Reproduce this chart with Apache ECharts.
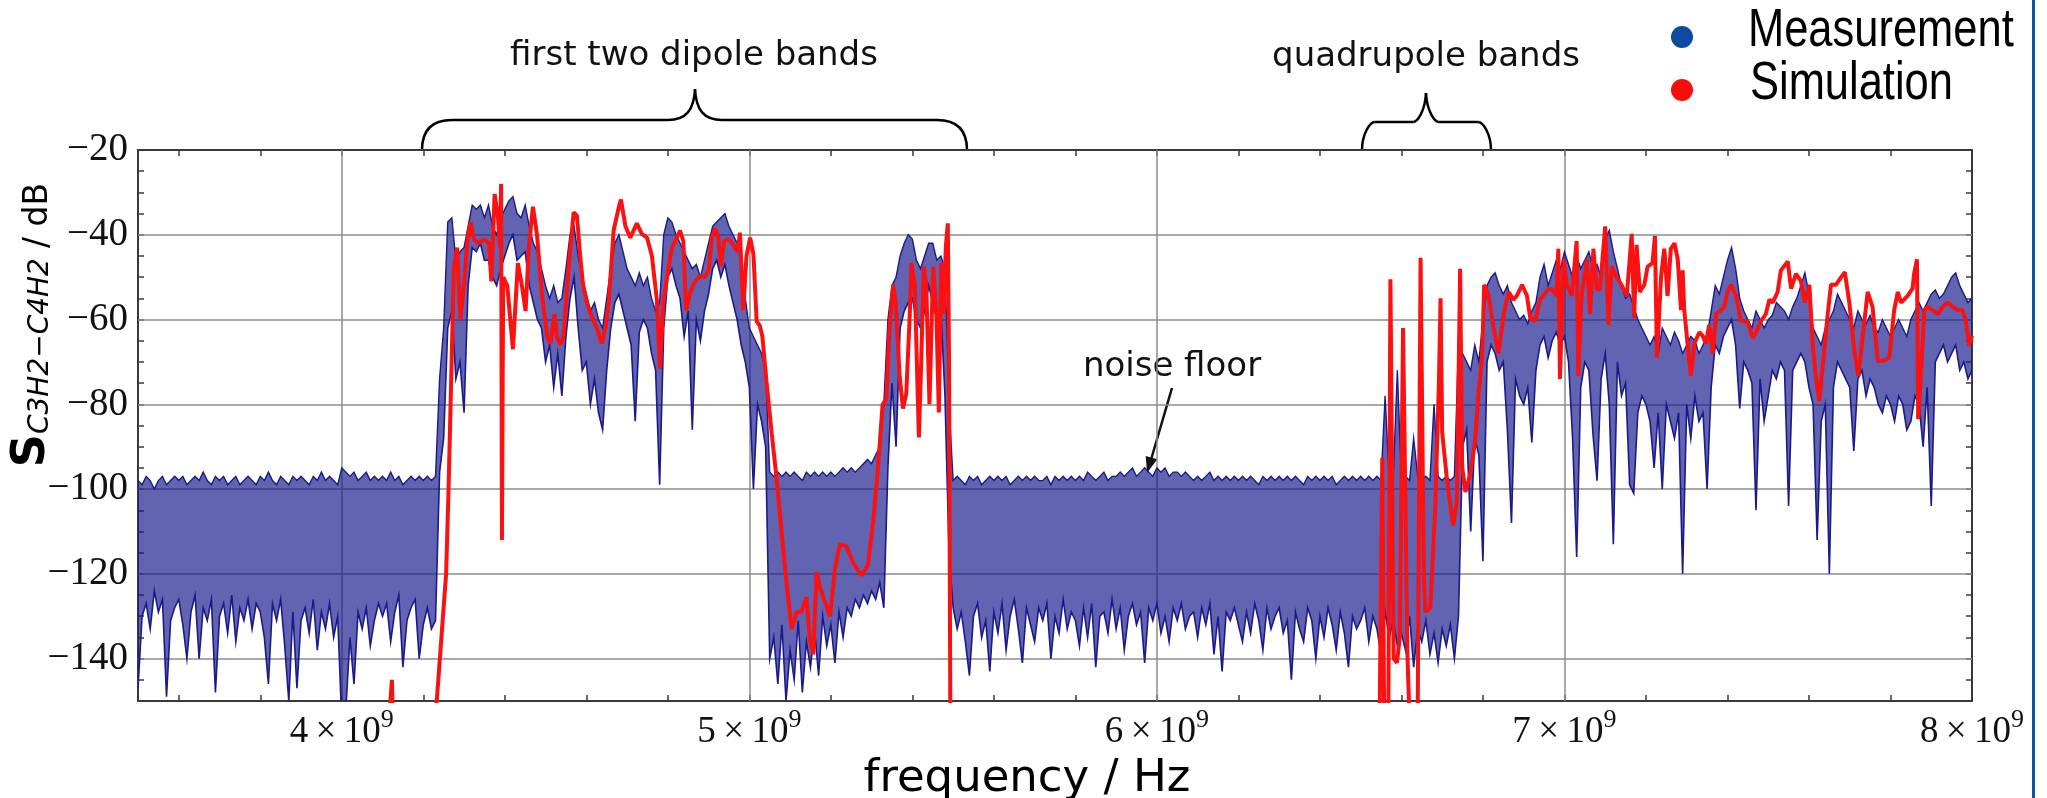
<!DOCTYPE html>
<html lang="en">
<head>
<meta charset="UTF-8" />
<title>S C3H2-C4H2: measurement vs simulation</title>
<script src="https://cdn.jsdelivr.net/npm/echarts@6/dist/echarts.min.js"></script>
<style>
  html, body { margin: 0; padding: 0; background: #fff; }
  #chart { width: 2047px; height: 798px; }
</style>
</head>
<body>
<div id="chart"></div>
<script>
// measurement envelope, sampled every 10 MHz from 3.5 GHz (one line = 100 MHz)
const measStart = 3.5;
const measStep = 0.01;
const measHi = [
  -98,-99,-97,-98,-100,-98,-97,-99,-98,-97,
  -98,-97,-99,-98,-97,-98,-96,-98,-99,-97,
  -98,-97,-99,-98,-97,-99,-98,-97,-98,-99,
  -97,-98,-96,-98,-99,-97,-98,-99,-97,-98,
  -97,-98,-99,-97,-98,-96,-98,-97,-98,-99,
  -95,-96,-97,-96,-98,-97,-96,-98,-97,-98,
  -97,-98,-96,-98,-97,-99,-98,-97,-98,-97,
  -98,-97,-98,-97,-74,-62,-37,-36,-46,-44,
  -43,-38,-33,-34,-33,-36,-33,-38,-40,-36,
  -34,-32,-31,-35,-36,-33,-38,-42,-44,-48,
  -52,-55,-52,-56,-55,-48,-40,-38,-45,-50,
  -54,-58,-56,-60,-62,-55,-48,-42,-40,-44,
  -48,-50,-52,-49,-52,-50,-55,-58,-56,-40,
  -36,-37,-40,-42,-44,-46,-48,-47,-50,-46,
  -42,-38,-37,-36,-35,-38,-40,-42,-46,-55,
  -62,-64,-66,-68,-72,-96,-97,-96,-97,-96,
  -97,-96,-97,-98,-96,-97,-96,-97,-96,-97,
  -96,-97,-96,-95,-96,-95,-96,-95,-94,-93,
  -94,-92,-90,-80,-60,-52,-50,-45,-42,-40,
  -41,-46,-48,-45,-42,-42,-46,-45,-48,-80,
  -98,-97,-98,-99,-97,-98,-97,-99,-98,-97,
  -98,-97,-98,-97,-99,-98,-97,-98,-97,-98,
  -97,-98,-98,-97,-99,-97,-98,-97,-98,-97,
  -98,-97,-98,-96,-97,-98,-97,-96,-98,-97,
  -97,-96,-97,-96,-95,-97,-96,-95,-96,-97,
  -95,-96,-95,-97,-96,-96,-97,-96,-97,-98,
  -97,-98,-97,-96,-98,-97,-98,-97,-98,-97,
  -98,-97,-98,-97,-98,-99,-97,-98,-97,-98,
  -97,-98,-97,-98,-97,-98,-99,-97,-98,-97,
  -98,-97,-98,-97,-99,-98,-97,-98,-97,-98,
  -97,-98,-97,-98,-97,-98,-78,-98,-97,-72,
  -98,-97,-98,-88,-97,-98,-97,-98,-80,-97,
  -98,-97,-98,-97,-66,-68,-70,-72,-66,-70,
  -60,-52,-50,-49,-52,-54,-52,-56,-58,-60,
  -59,-61,-58,-56,-50,-47,-52,-49,-46,-48,
  -44,-47,-50,-45,-48,-46,-44,-48,-47,-50,
  -41,-39,-44,-48,-52,-55,-54,-57,-60,-62,
  -64,-66,-64,-68,-62,-64,-66,-63,-65,-68,
  -66,-64,-65,-68,-66,-64,-58,-52,-54,-50,
  -46,-43,-48,-55,-58,-60,-62,-58,-60,-62,
  -60,-59,-56,-57,-58,-60,-57,-55,-52,-49,
  -54,-62,-64,-66,-62,-60,-58,-54,-56,-58,
  -60,-62,-58,-60,-61,-59,-62,-63,-60,-62,
  -64,-62,-60,-62,-64,-60,-58,-56,-58,-56,
  -54,-53,-55,-54,-52,-50,-49,-52,-54,-56,
  -55
];
const measLo = [
  -147,-130,-127,-133,-124,-129,-126,-149,-131,-128,
  -126,-132,-140,-129,-125,-140,-128,-131,-126,-148,
  -130,-127,-134,-125,-136,-128,-131,-126,-133,-127,
  -129,-135,-146,-127,-131,-126,-137,-150,-129,-147,
  -131,-128,-134,-126,-138,-129,-133,-127,-135,-130,
  -155,-152,-135,-146,-129,-133,-128,-137,-131,-127,
  -130,-127,-136,-129,-125,-142,-131,-128,-126,-140,
  -132,-128,-133,-131,-96,-88,-62,-58,-74,-70,
  -82,-52,-43,-44,-42,-46,-46,-50,-52,-48,
  -45,-42,-40,-46,-45,-44,-52,-56,-60,-62,
  -70,-66,-76,-68,-78,-64,-55,-50,-62,-72,
  -70,-80,-74,-82,-86,-72,-62,-56,-54,-58,
  -62,-66,-84,-63,-60,-62,-68,-72,-99,-62,
  -50,-48,-52,-55,-64,-58,-86,-60,-65,-58,
  -54,-48,-46,-50,-47,-52,-56,-60,-66,-70,
  -76,-100,-80,-84,-90,-140,-135,-146,-132,-150,
  -138,-145,-131,-148,-136,-142,-133,-144,-130,-137,
  -132,-141,-129,-135,-128,-130,-126,-128,-125,-127,
  -124,-126,-122,-128,-95,-75,-90,-62,-58,-56,
  -55,-60,-62,-58,-52,-56,-60,-58,-78,-115,
  -128,-133,-129,-136,-144,-130,-127,-135,-131,-143,
  -129,-134,-127,-138,-130,-126,-133,-141,-128,-132,
  -136,-128,-131,-127,-140,-130,-134,-126,-133,-129,
  -131,-137,-128,-135,-127,-142,-130,-129,-134,-126,
  -133,-128,-138,-130,-127,-132,-129,-141,-128,-131,
  -127,-134,-130,-136,-128,-131,-127,-133,-130,-129,
  -135,-128,-132,-127,-139,-130,-143,-129,-131,-128,
  -132,-136,-129,-134,-127,-131,-138,-128,-133,-130,
  -128,-134,-131,-145,-129,-133,-136,-128,-131,-140,
  -130,-135,-128,-132,-138,-129,-134,-142,-130,-133,
  -131,-128,-136,-130,-133,-139,-129,-135,-131,-137,
  -134,-138,-130,-142,-133,-136,-131,-139,-134,-141,
  -133,-137,-132,-140,-130,-90,-86,-110,-88,-92,
  -117,-70,-66,-68,-72,-70,-86,-108,-74,-78,
  -80,-76,-89,-72,-66,-64,-69,-65,-63,-66,
  -64,-70,-88,-116,-76,-70,-72,-87,-98,-74,
  -68,-80,-113,-70,-78,-75,-99,-101,-82,-78,
  -80,-84,-95,-82,-100,-80,-84,-88,-82,-120,
  -80,-88,-78,-84,-82,-100,-76,-66,-68,-64,
  -62,-60,-66,-81,-70,-72,-75,-105,-74,-84,
  -78,-72,-74,-70,-72,-104,-72,-70,-68,-70,
  -76,-80,-112,-84,-80,-120,-76,-70,-72,-74,
  -76,-91,-74,-72,-78,-74,-76,-80,-82,-78,
  -80,-84,-78,-80,-86,-84,-78,-80,-90,-76,
  -104,-70,-68,-66,-70,-68,-66,-72,-70,-74,
  -72
];

// simulation trace: [frequency in GHz, level in dB]
const simulation = [
  [4.100,-170],[4.118,-152],[4.123,-145],[4.126,-158],[4.140,-172],[4.200,-168],
  [4.233,-150],[4.256,-120],[4.262,-100],[4.267,-80],[4.272,-60],[4.275,-48],
  [4.283,-43],[4.291,-60],[4.300,-52],[4.308,-41.5],[4.316,-37],[4.324,-41],
  [4.336,-42],[4.349,-41],[4.361,-42],[4.367,-51],[4.375,-30.4],[4.383,-35.5],
  [4.388,-43],[4.391,-28],[4.393,-112],[4.396,-50],[4.406,-52],[4.420,-67],
  [4.432,-46.7],[4.442,-52],[4.451,-58],[4.459,-43],[4.469,-33.4],[4.479,-40],
  [4.491,-54],[4.504,-64],[4.512,-65.6],[4.522,-58.7],[4.528,-64],[4.536,-66],
  [4.544,-64],[4.553,-52],[4.561,-43],[4.569,-34.7],[4.577,-35.5],[4.585,-45],
  [4.592,-51.8],[4.602,-56],[4.614,-59.6],[4.626,-62],[4.638,-65.6],[4.647,-62],
  [4.655,-56],[4.667,-39],[4.679,-33.8],[4.685,-31.7],[4.696,-38],[4.708,-40.7],
  [4.724,-37.3],[4.736,-39.8],[4.749,-40.7],[4.761,-45],[4.773,-55.3],[4.781,-71.6],
  [4.789,-56],[4.798,-50],[4.810,-43],[4.822,-40.7],[4.830,-39],[4.838,-41.5],
  [4.845,-57.8],[4.855,-53.5],[4.867,-51],[4.879,-49.7],[4.891,-50],[4.900,-48.4],
  [4.908,-40.7],[4.916,-38.5],[4.924,-40.7],[4.930,-47.5],[4.938,-41.5],[4.949,-41],
  [4.961,-42.4],[4.971,-44],[4.977,-39.5],[4.985,-57.8],[4.993,-45],[5.002,-40.7],
  [5.010,-44.5],[5.018,-60.4],[5.026,-61.5],[5.032,-64],[5.042,-74.5],[5.055,-87],
  [5.067,-97.5],[5.079,-110],[5.091,-122],[5.104,-133],[5.116,-129],[5.128,-129],
  [5.140,-125.5],[5.149,-135.8],[5.157,-139],[5.165,-119.6],[5.173,-123],[5.185,-126.5],
  [5.198,-130],[5.210,-119],[5.222,-113],[5.238,-113.5],[5.255,-117.4],[5.275,-120.4],
  [5.291,-118],[5.304,-107.6],[5.316,-94.7],[5.327,-80],[5.336,-78.8],[5.344,-62],
  [5.353,-51.8],[5.359,-56],[5.369,-73.5],[5.377,-81],[5.385,-77.6],[5.393,-60.4],
  [5.398,-46.7],[5.406,-51.8],[5.416,-87.8],[5.422,-69],[5.428,-47.5],[5.434,-51.8],
  [5.442,-80],[5.451,-47.5],[5.459,-58.7],[5.465,-81.9],[5.471,-46.7],[5.477,-58.7],
  [5.482,-43],[5.487,-37.3],[5.490,-69],[5.493,-150],[5.500,-175],[6.530,-175],
  [6.547,-150],[6.553,-92.6],[6.558,-158],[6.568,-152],[6.573,-50.5],[6.581,-140],
  [6.589,-141],[6.596,-135],[6.604,-62],[6.615,-140],[6.622,-160],[6.640,-152],
  [6.647,-45.4],[6.655,-120],[6.659,-129],[6.671,-128],[6.683,-104],[6.692,-75],
  [6.696,-55],[6.700,-86.6],[6.712,-98],[6.727,-108.6],[6.736,-103],[6.744,-48],
  [6.749,-94.7],[6.757,-100.7],[6.769,-96.4],[6.781,-88.6],[6.789,-77.6],[6.798,-69],
  [6.803,-51.8],[6.814,-54.4],[6.826,-62],[6.838,-68],[6.851,-58.7],[6.863,-53.5],
  [6.875,-55.3],[6.883,-54.4],[6.896,-51.8],[6.908,-54.4],[6.916,-59.6],[6.928,-60.4],
  [6.940,-55.3],[6.957,-53.2],[6.969,-52.7],[6.981,-54.4],[6.985,-43.3],[6.989,-74],
  [6.998,-45.8],[7.006,-51.8],[7.018,-54.4],[7.030,-41.5],[7.034,-73.3],[7.042,-54.4],
  [7.055,-45.8],[7.063,-58.7],[7.071,-43.3],[7.079,-52.7],[7.087,-53],[7.100,-38],
  [7.108,-61.3],[7.116,-47.5],[7.128,-50],[7.140,-51.8],[7.153,-54.4],[7.165,-39.8],
  [7.171,-59.6],[7.177,-42.4],[7.185,-53.5],[7.196,-51.8],[7.204,-47.5],[7.216,-46.7],
  [7.222,-40.3],[7.227,-69],[7.237,-50],[7.245,-43.3],[7.253,-54.4],[7.261,-43.3],
  [7.270,-42],[7.278,-45.8],[7.286,-57.8],[7.290,-48.4],[7.294,-57.8],[7.302,-65.6],
  [7.310,-73.3],[7.319,-65.6],[7.331,-63],[7.339,-63.8],[7.347,-65.6],[7.355,-61.3],
  [7.364,-68],[7.372,-58.7],[7.384,-57.8],[7.392,-57],[7.400,-53.5],[7.409,-51.8],
  [7.421,-54.4],[7.433,-60.4],[7.449,-60.4],[7.462,-64.3],[7.470,-63],[7.482,-60.4],
  [7.494,-58.7],[7.503,-55.3],[7.511,-56],[7.523,-53.5],[7.531,-48.4],[7.548,-46.3],
  [7.556,-52.7],[7.568,-49.2],[7.580,-50.9],[7.590,-56],[7.601,-51.8],[7.609,-65.6],
  [7.617,-73.3],[7.625,-79.3],[7.634,-70.7],[7.646,-58.7],[7.654,-51.8],[7.666,-51.8],
  [7.679,-50],[7.688,-48.8],[7.699,-56],[7.711,-67.1],[7.721,-73.3],[7.732,-63.8],
  [7.744,-53.5],[7.756,-57],[7.769,-69.8],[7.781,-69.8],[7.797,-69],[7.809,-57.8],
  [7.818,-53.5],[7.826,-56],[7.842,-54.4],[7.854,-52.7],[7.858,-49.2],[7.865,-45.8],
  [7.868,-83.5],[7.875,-72.4],[7.883,-57.8],[7.891,-57],[7.903,-57.8],[7.916,-58.7],
  [7.928,-57],[7.940,-56],[7.953,-57],[7.965,-57.8],[7.977,-57.8],[7.985,-60.4],
  [7.993,-66.2],[8.000,-63.8]
];

// axes: labels, minor ticks and grid lines
const xLabels = [4, 5, 6, 7, 8];
const xTicks = [3.6,3.8,4.0,4.2,4.4,4.6,4.8,5.0,5.2,5.4,5.6,5.8,6.0,6.2,6.4,6.6,6.8,7.0,7.2,7.4,7.6,7.8];
const xGrid = [4, 5, 6, 7];
const yLabels = [-140, -120, -100, -80, -60, -40, -20];
const yTicks = [-145,-140,-135,-130,-125,-120,-115,-110,-105,-100,-95,-90,-85,-80,-75,-70,-65,-60,-55,-50,-45,-40,-35,-30,-25];
const yGrid = [-140, -120, -100, -80, -60, -40];

const measFreq = measHi.map((_, i) => +(measStart + i * measStep).toFixed(2));
const measData = measFreq.map((f, i) => [f, measHi[i], measLo[i]]);

const chart = echarts.init(document.getElementById('chart'));

const axisColor = '#3a3a3a';
const tickStyle = { show: true, inside: true, length: 6, lineStyle: { color: axisColor, width: 1.5 } };
const serif = 'Liberation Serif';
const sans = 'DejaVu Sans';
const navy = '#1a1a88';

// the whole envelope is drawn once, as a filled band with its two edges
function renderMeasurement(params, api) {
  if (params.dataIndex !== 0) return null;
  const top = measData.map(d => api.coord([d[0], d[1]]));
  const bottom = measData.map(d => api.coord([d[0], d[2]]));
  return {
    type: 'group',
    children: [
      { type: 'polygon', shape: { points: top.concat(bottom.slice().reverse()) }, style: { fill: 'rgba(24,26,140,0.68)' } },
      { type: 'polyline', shape: { points: top }, style: { stroke: navy, lineWidth: 1.4, fill: null } },
      { type: 'polyline', shape: { points: bottom }, style: { stroke: navy, lineWidth: 1.6, fill: null } }
    ]
  };
}

// curly brace made of bezier pieces: left end, flat, tip, flat, right end
function brace(x0, x1, xt, yBase, yFlat, yTip) {
  const r = Math.min(30, (xt - x0) * 0.2);
  const t = Math.min(27, (xt - x0) * 0.2);
  const st = { stroke: '#000', lineWidth: 2.5, fill: 'none' };
  const bz = (a, b, c, d) => ({ type: 'bezierCurve', silent: true, style: st,
    shape: { x1: a[0], y1: a[1], cpx1: b[0], cpy1: b[1], cpx2: c[0], cpy2: c[1], x2: d[0], y2: d[1] } });
  const ln = (a, b) => ({ type: 'line', silent: true, style: st, shape: { x1: a[0], y1: a[1], x2: b[0], y2: b[1] } });
  return [
    bz([x0, yBase], [x0, yFlat + 12], [x0 + 8, yFlat], [x0 + r, yFlat]),
    ln([x0 + r, yFlat], [xt - t, yFlat]),
    bz([xt - t, yFlat], [xt - 9, yFlat], [xt - 1, yFlat - 10], [xt, yTip]),
    bz([xt, yTip], [xt + 1, yFlat - 10], [xt + 9, yFlat], [xt + t, yFlat]),
    ln([xt + t, yFlat], [x1 - r, yFlat]),
    bz([x1 - r, yFlat], [x1 - 8, yFlat], [x1, yFlat + 12], [x1, yBase])
  ];
}

const option = {
  animation: false,
  backgroundColor: '#fff',
  grid: { left: 138, right: 75, top: 150, bottom: 97, outerBoundsMode: 'none' },
  xAxis: [
    {
      type: 'value', min: 3.5, max: 8, position: 'bottom',
      axisLine: { lineStyle: { color: axisColor, width: 2 } },
      axisTick: Object.assign({ customValues: xTicks }, tickStyle),
      splitLine: { show: false },
      axisLabel: {
        customValues: xLabels,
        margin: 6,
        formatter: v => `{m|${v}\u2009\u00d7\u200910}{e|9}`,
        rich: {
          m: { fontFamily: serif, fontSize: 37, color: '#111', lineHeight: 44, verticalAlign: 'bottom' },
          e: { fontFamily: serif, fontSize: 26, color: '#111', lineHeight: 25, verticalAlign: 'top' }
        }
      },
      name: 'frequency / Hz',
      nameLocation: 'middle',
      nameGap: 56,
      nameTextStyle: { fontFamily: sans, fontSize: 45, color: '#000', padding: [0, 56, 0, 0] }
    },
    {
      type: 'value', min: 3.5, max: 8, position: 'top',
      axisLine: { lineStyle: { color: axisColor, width: 2 } },
      axisTick: Object.assign({ customValues: xTicks }, tickStyle),
      axisLabel: { show: false },
      splitLine: { show: false }
    }
  ],
  yAxis: [
    {
      type: 'value', min: -150, max: -20, position: 'left',
      axisLine: { show: true, lineStyle: { color: axisColor, width: 2 } },
      axisTick: Object.assign({ customValues: yTicks }, tickStyle),
      splitLine: { show: false },
      axisLabel: {
        customValues: yLabels,
        margin: 10,
        fontFamily: serif, fontSize: 39, color: '#111',
        formatter: v => (v < 0 ? '\u2212' : '') + Math.abs(v)
      }
    },
    {
      type: 'value', min: -150, max: -20, position: 'right',
      axisLine: { show: true, lineStyle: { color: axisColor, width: 2 } },
      axisTick: Object.assign({ customValues: yTicks }, tickStyle),
      axisLabel: { show: false },
      splitLine: { show: false }
    }
  ],
  series: [
    {
      // grid lines at the major ticks
      type: 'line', data: [], silent: true,
      markLine: {
        silent: true, z: 1, symbol: ['none', 'none'], animation: false,
        label: { show: false },
        lineStyle: { color: '#8c8c8c', width: 1.5, type: 'solid' },
        emphasis: { disabled: true },
        data: xGrid.map(v => ({ xAxis: v })).concat(yGrid.map(v => ({ yAxis: v })))
      }
    },
    {
      name: 'Measurement', type: 'custom', data: measData,
      encode: { x: 0, y: [1, 2] },
      renderItem: renderMeasurement,
      clip: true, silent: true, z: 2
    },
    {
      name: 'Simulation', type: 'line', data: simulation,
      showSymbol: false, silent: true, z: 3, clip: true,
      lineStyle: { color: '#fa1212', width: 4 }
    }
  ],
  graphic: [].concat(
    brace(422, 967, 695, 150, 120, 89),
    brace(1362, 1491, 1426, 150, 122, 93),
    [
      {
        type: 'text', silent: true, x: 694, y: 56,
        style: { text: 'first two dipole bands', fontFamily: sans, fontSize: 34, fill: '#111', align: 'center', verticalAlign: 'middle' }
      },
      {
        type: 'text', silent: true, x: 1426, y: 57,
        style: { text: 'quadrupole bands', fontFamily: sans, fontSize: 34, fill: '#111', align: 'center', verticalAlign: 'middle' }
      },
      // noise floor note
      {
        type: 'text', silent: true, x: 1172, y: 367,
        style: { text: 'noise floor', fontFamily: sans, fontSize: 34, fill: '#111', align: 'center', verticalAlign: 'middle' }
      },
      {
        type: 'line', silent: true,
        shape: { x1: 1172, y1: 388, x2: 1151.5, y2: 458 },
        style: { stroke: '#111', lineWidth: 2.5 }
      },
      {
        type: 'polygon', silent: true,
        shape: { points: [[1147, 473], [1157.3, 459.3], [1145.7, 455.9]] },
        style: { fill: '#111' }
      },
      // y axis title
      {
        type: 'text', silent: true, x: 30, y: 325, rotation: Math.PI / 2,
        style: {
          text: '{s|S}{sub|C3H2\u2212C4H2}{u|/ dB}',
          align: 'center', verticalAlign: 'middle',
          rich: {
            s: { fontFamily: sans, fontWeight: 'bold', fontSize: 46, lineHeight: 50, verticalAlign: 'bottom', fill: '#000' },
            sub: { fontFamily: sans, fontStyle: 'italic', fontSize: 28, lineHeight: 30, verticalAlign: 'bottom', fill: '#000', padding: [0, 10, 0, 0] },
            u: { fontFamily: sans, fontSize: 33, lineHeight: 46, verticalAlign: 'bottom', fill: '#000' }
          }
        }
      },
      // legend
      { type: 'circle', silent: true, shape: { cx: 1682, cy: 37, r: 11 }, style: { fill: '#0b4a9e' } },
      { type: 'circle', silent: true, shape: { cx: 1682, cy: 90, r: 11 }, style: { fill: '#ff0a0a' } },
      {
        type: 'text', silent: true, x: 1748, y: 31.5, scaleX: 0.82,
        style: { text: 'Measurement', fontFamily: 'Liberation Sans', fontSize: 53, fill: '#000', align: 'left', verticalAlign: 'middle' }
      },
      {
        type: 'text', silent: true, x: 1750, y: 84.5, scaleX: 0.82,
        style: { text: 'Simulation', fontFamily: 'Liberation Sans', fontSize: 53, fill: '#000', align: 'left', verticalAlign: 'middle' }
      },
      // slide frame on the right
      { type: 'rect', silent: true, shape: { x: 2032, y: 0, width: 3, height: 798 }, style: { fill: '#1450a3' } }
    ]
  )
};

chart.setOption(option);
</script>
</body>
</html>
